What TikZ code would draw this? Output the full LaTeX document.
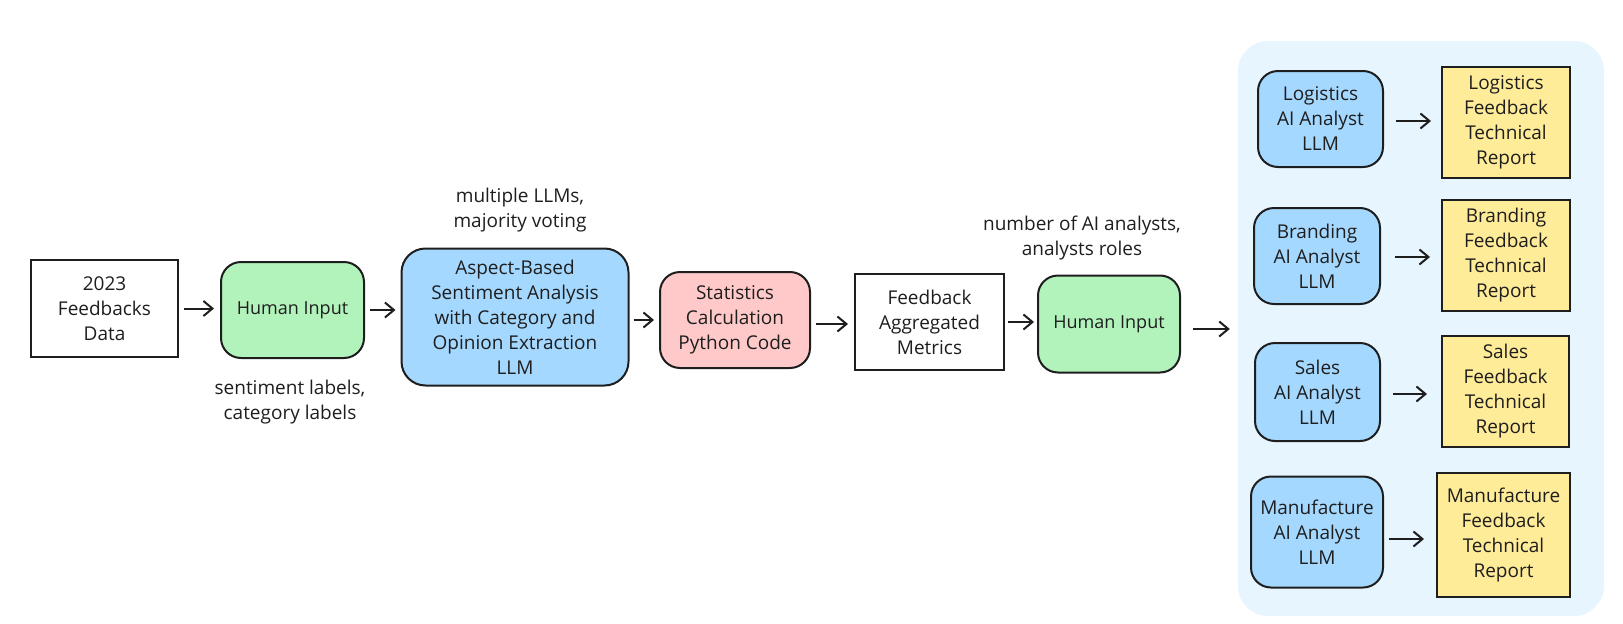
\documentclass[tikz,border=0pt]{standalone}
\usepackage{fontspec}
\setmainfont{Open Sans}
\usetikzlibrary{arrows.meta}
\definecolor{ink}{HTML}{1E1E1E}
\definecolor{hgreen}{HTML}{B2F2BB}
\definecolor{hblue}{HTML}{A5D8FF}
\definecolor{hred}{HTML}{FFC9C9}
\definecolor{hyellow}{HTML}{FFEC99}
\definecolor{cont}{HTML}{E7F5FF}
\begin{document}
\begin{tikzpicture}[x=1pt,y=-1pt,
 box/.style={draw=ink, line width=2pt, align=center, inner sep=0pt, text=ink, font=\fontsize{19}{25}\selectfont},
 sq/.style={box},
 rnd/.style={box, rounded corners=20pt},
 arr/.style={draw=ink, line width=2pt, -{Straight Barb[length=9pt,width=15pt,line width=2pt]}},
 note/.style={align=center, text=ink, inner sep=0pt, font=\fontsize{19}{25}\selectfont}
]
\useasboundingbox (0,0) rectangle (1623,624);
% panel
\node[fill=cont, rounded corners=30pt, minimum width=366pt, minimum height=575pt, inner sep=0pt] (panel) at (1421,328.5) {};
% main row
\node[sq, fill=white, minimum width=147pt, minimum height=97pt] (data) at (104.5,308.5) {2023\\Feedbacks\\Data};
\node[rnd, fill=hgreen, minimum width=143pt, minimum height=96pt, font=\fontsize{18}{22}\selectfont] (hi1) at (292.5,310) {Human Input};
\node[rnd, fill=hblue, rounded corners=24pt, minimum width=227pt, minimum height=137pt] (absa) at (515,317) {Aspect-Based\\Sentiment Analysis\\with Category and\\Opinion Extraction\\LLM};
\node[rnd, fill=hred, minimum width=150pt, minimum height=96pt] (stat) at (735,320) {Statistics\\Calculation\\Python Code};
\node[sq, fill=white, minimum width=149pt, minimum height=96pt] (fam) at (929.5,322) {Feedback\\Aggregated\\Metrics};
\node[rnd, fill=hgreen, minimum width=142pt, minimum height=97pt, font=\fontsize{18}{22}\selectfont] (hi2) at (1109,324) {Human Input};
% notes
\node[note] (n1) at (520,210) {multiple LLMs,\\majority voting};
\node[note] (n2) at (290,402) {sentiment labels,\\category labels};
\node[note] (n3) at (1082,238) {number of AI analysts,\\analysts roles};
% analysts
\node[rnd, fill=hblue, minimum width=125pt, minimum height=96pt] (ai1) at (1320.5,119) {Logistics\\AI Analyst\\LLM};
\node[sq, fill=hyellow, minimum width=128pt, minimum height=111pt] (r1) at (1506,122.5) {Logistics\\Feedback\\Technical\\Report};
\node[rnd, fill=hblue, minimum width=126pt, minimum height=96pt] (ai2) at (1317,256) {Branding\\AI Analyst\\LLM};
\node[sq, fill=hyellow, minimum width=128pt, minimum height=111pt] (r2) at (1506,255.5) {Branding\\Feedback\\Technical\\Report};
\node[rnd, fill=hblue, minimum width=125pt, minimum height=98pt] (ai3) at (1317.5,392) {Sales\\AI Analyst\\LLM};
\node[sq, fill=hyellow, minimum width=127pt, minimum height=111pt] (r3) at (1505.5,391.5) {Sales\\Feedback\\Technical\\Report};
\node[rnd, fill=hblue, minimum width=132pt, minimum height=111pt] (ai4) at (1317,532) {Manufacture\\AI Analyst\\LLM};
\node[sq, fill=hyellow, minimum width=133pt, minimum height=124pt] (r4) at (1503.5,535) {Manufacture\\Feedback\\Technical\\Report};
% arrows
\draw[arr, shorten <=5pt, shorten >=6pt] (data.east) -- (data.east -| hi1.west);
\draw[arr, shorten <=5pt, shorten >=5pt] (hi1.east) -- (hi1.east -| absa.west);
\draw[arr, shorten <=4pt, shorten >=5pt] (absa.east |- stat.west) -- (stat.west);
\draw[arr, shorten <=5pt, shorten >=6pt] (stat.east |- 0,324) -- (fam.west |- 0,324);
\draw[arr, shorten <=3pt, shorten >=3pt] (fam.east) -- (fam.east -| hi2.west);
\draw[arr, shorten <=12pt, shorten >=8pt] (hi2.east |- 0,329) -- (panel.west |- 0,329);
\draw[arr, shorten <=12pt, shorten >=10pt] (ai1.east |- 0,121) -- (r1.west |- 0,121);
\draw[arr, shorten <=14pt, shorten >=11pt] (ai2.east |- 0,257) -- (r2.west |- 0,257);
\draw[arr, shorten <=12pt, shorten >=14pt] (ai3.east |- 0,394) -- (r3.west |- 0,394);
\draw[arr, shorten <=5pt, shorten >=12pt] (ai4.east |- 0,539) -- (r4.west |- 0,539);
\end{tikzpicture}
\end{document}
